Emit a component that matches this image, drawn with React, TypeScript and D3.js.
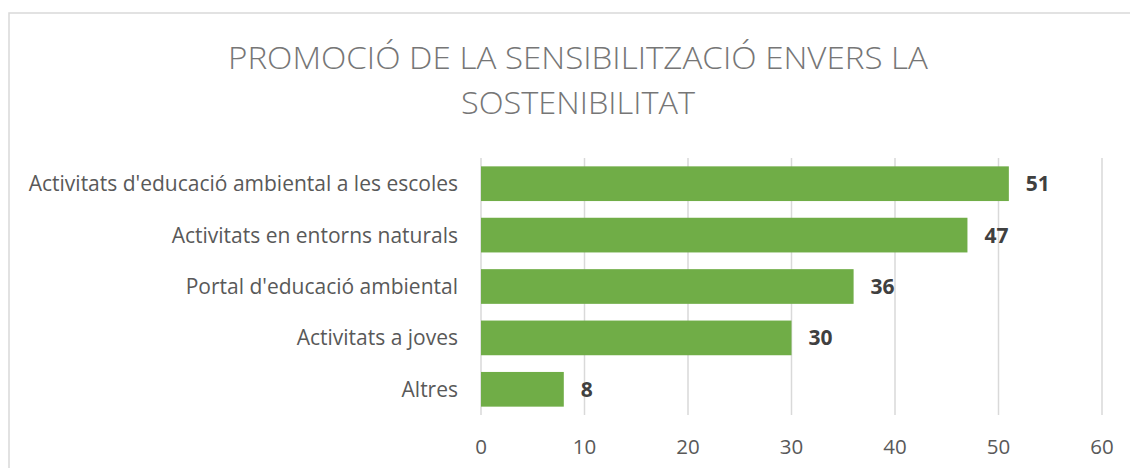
import React from "react";
import * as d3 from "d3";

const categories = [
  "Activitats d'educació ambiental a les escoles",
  "Activitats en entorns naturals",
  "Portal d'educació ambiental",
  "Activitats a joves",
  "Altres",
];
const values = [51, 47, 36, 30, 8];
const xTicks = [0, 10, 20, 30, 40, 50, 60];
const titleLines = ["PROMOCIÓ DE LA SENSIBILITZACIÓ ENVERS LA", "SOSTENIBILITAT"];

const W = 1130;
const H = 468;
const FONT = "'Open Sans', 'Noto Sans', sans-serif";

export default function App() {
  const x = d3.scaleLinear().domain([0, 60]).range([481, 1102]);
  const y = d3
    .scaleBand<string>()
    .domain(categories)
    .range([158, 415])
    .paddingInner(0.325)
    .paddingOuter(0.1625);

  return (
    <svg
      width={W}
      height={H}
      style={{ position: "absolute", left: 0, top: 0, background: "#fff" }}
    >
      <rect x={9} y={13} width={1200} height={600} fill="#fff" stroke="#d9d9d9" strokeWidth={1.5} />
      <text
        x={578}
        y={68.5}
        textAnchor="middle"
        fontFamily={FONT}
        fontSize={32}
        fontWeight={300}
        fill="#767676"
        textLength={700}
        lengthAdjust="spacingAndGlyphs"
      >
        {titleLines[0]}
      </text>
      <text
        x={578}
        y={114}
        textAnchor="middle"
        fontFamily={FONT}
        fontSize={32}
        fontWeight={300}
        fill="#767676"
        textLength={234}
        lengthAdjust="spacingAndGlyphs"
      >
        {titleLines[1]}
      </text>
      {xTicks.map((t) => (
        <line
          key={"g" + t}
          x1={x(t)}
          x2={x(t)}
          y1={158}
          y2={415}
          stroke="#d9d9d9"
          strokeWidth={1.5}
        />
      ))}
      {categories.map((c, i) => (
        <g key={c}>
          <rect
            x={x(0)}
            y={y(c)}
            width={x(values[i]) - x(0)}
            height={y.bandwidth()}
            fill="#70ad47"
          />
          <text
            x={458}
            y={(y(c) as number) + y.bandwidth() / 2 + 7.5}
            textAnchor="end"
            fontFamily={FONT}
            fontSize={21}
            fill="#595959"
          >
            {c}
          </text>
          <text
            x={x(values[i]) + 17}
            y={(y(c) as number) + y.bandwidth() / 2 + 7.5}
            fontFamily={FONT}
            fontSize={21}
            fontWeight="bold"
            fill="#404040"
          >
            {values[i]}
          </text>
        </g>
      ))}
      {xTicks.map((t) => (
        <text
          key={"t" + t}
          x={x(t)}
          y={453.7}
          textAnchor="middle"
          fontFamily={FONT}
          fontSize={20.5}
          fill="#595959"
        >
          {t}
        </text>
      ))}
    </svg>
  );
}
